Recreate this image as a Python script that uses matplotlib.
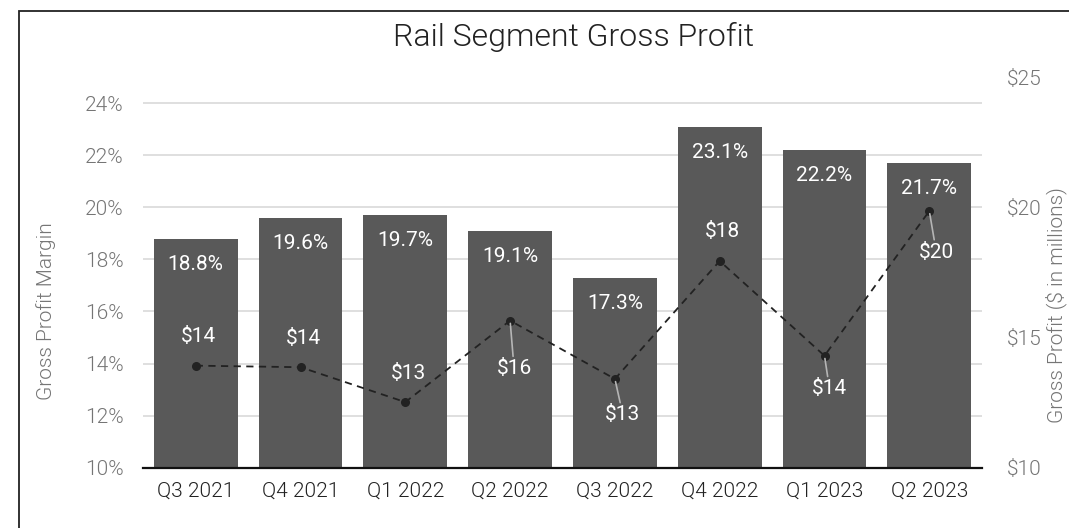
import matplotlib
matplotlib.use('Agg')
import matplotlib.pyplot as plt
from matplotlib.patches import Rectangle
import numpy as np

plt.rcParams['font.family'] = ['Roboto', 'DejaVu Sans']

# data
quarters = ['Q3 2021', 'Q4 2021', 'Q1 2022', 'Q2 2022',
            'Q3 2022', 'Q4 2022', 'Q1 2023', 'Q2 2023']
margin_pct = [18.8, 19.6, 19.7, 19.1, 17.3, 23.1, 22.2, 21.7]
gross_profit = [13.92, 13.86, 12.52, 15.65, 13.41, 17.94, 14.30, 19.86]

# label placement for the $ labels (pixel offsets from the point)
profit_label_offsets = [(3, 29), (3, 29), (3, 29), (4, -48),
                        (8, -36), (3, 29), (5, -33), (7, -41)]

LIGHT = 300

W, H = 1069, 528
fig = plt.figure(figsize=(W / 100, H / 100), dpi=100)
ax = fig.add_axes([143.3 / W, 1 - 467.7 / H, (981.7 - 143.3) / W, (467.7 - 77.2) / H])
ax2 = ax.twinx()

x = np.arange(len(quarters))
bars = ax.bar(x, margin_pct, width=0.8, color='#595959', zorder=2)
ax.set_xlim(-0.5, len(quarters) - 0.5)
ax.set_ylim(10, 25)
ax.set_yticks(np.arange(10, 25, 2))
ax.set_yticklabels([f'{t}%' for t in range(10, 25, 2)])
ax.set_xticks(x)
ax.set_xticklabels(quarters)
ax.set_axisbelow(True)
ax.yaxis.grid(True, color='#d9d9d9', linewidth=1.2)
for s in ['top', 'left', 'right']:
    ax.spines[s].set_visible(False)
ax.spines['bottom'].set_color('#111111')
ax.spines['bottom'].set_linewidth(1.6)
ax.tick_params(axis='y', length=0, pad=14, labelsize=15, labelcolor='#757575')
ax.tick_params(axis='x', length=0, pad=10, labelsize=15, labelcolor='#222222')
for lab in ax.get_yticklabels() + ax.get_xticklabels():
    lab.set_fontweight(LIGHT)

for b, v in zip(bars, margin_pct):
    ax.annotate(f'{v:.1f}%', (b.get_x() + b.get_width() / 2, v),
                xytext=(0, -25.6), textcoords='offset pixels',
                ha='center', va='center', color='white', fontsize=15, zorder=5)

# gross profit line on the right axis
ax2.plot(x, gross_profit, color='#222222', linestyle=(0, (4, 3)), linewidth=1.3,
         marker='o', markersize=5.5, zorder=3)
ax2.set_ylim(10, 25)
ax2.set_yticks([10, 15, 20, 25])
ax2.set_yticklabels(['$10', '$15', '$20', '$25'])
ax2.tick_params(axis='y', length=0, pad=18, labelsize=15, labelcolor='#757575')
for lab in ax2.get_yticklabels():
    lab.set_fontweight(LIGHT)
for s in ax2.spines.values():
    s.set_visible(False)

for xi, v, (dx, dy) in zip(x, gross_profit, profit_label_offsets):
    arrow = None
    if dy < 0:
        arrow = dict(arrowstyle='-', color='#b5b5b5', lw=1.2, shrinkA=0, shrinkB=2)
    ax2.annotate(f'${v:.0f}', (xi, v), xytext=(dx, dy), textcoords='offset pixels',
                 ha='center', va='center', color='white', fontsize=15,
                 arrowprops=arrow, zorder=5)

fig.text(574 / W, 1 - 37 / H, 'Rail Segment Gross Profit', ha='center', va='center',
         fontsize=23, fontweight=LIGHT, color='#222222')
fig.text(46 / W, 1 - 311 / H, 'Gross Profit Margin', rotation=90, ha='center', va='center',
         fontsize=15, fontweight=LIGHT, color='#757575')
fig.text(1056 / W, 1 - 305 / H, 'Gross Profit ($ in millions)', rotation=90,
         ha='center', va='center', fontsize=15, fontweight=LIGHT, color='#757575')

# outer frame of the chart box (runs off the right and bottom edges)
fig.patches.append(Rectangle((19 / W, -0.05), 1.1, 1.05 - 10.7 / H, transform=fig.transFigure,
                             fill=False, edgecolor='#222222', linewidth=1.3))

fig.savefig('out.png', dpi=100)
